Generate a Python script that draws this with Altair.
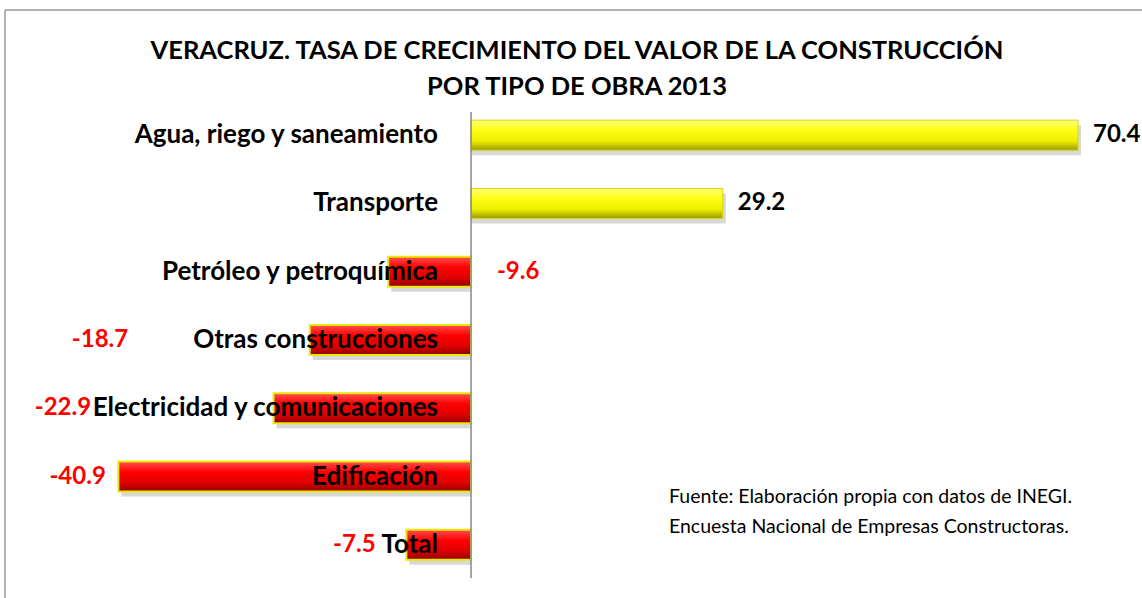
import altair as alt
import pandas as pd

categories = ["Agua, riego y saneamiento", "Transporte", "Petróleo y petroquímica",
              "Otras construcciones", "Electricidad y comunicaciones", "Edificación", "Total"]
values = [70.4, 29.2, -9.6, -18.7, -22.9, -40.9, -7.5]
# where Excel left each value label (left edge, in the same units as the values)
label_anchor = [70.4, 29.2, 3.0, -46.3, -50.6, -48.9, -16.0]
title_lines = ["VERACRUZ. TASA DE CRECIMIENTO DEL VALOR DE LA CONSTRUCCIÓN",
               "POR TIPO DE OBRA 2013"]
source_lines = ["Fuente: Elaboración propia con datos de INEGI.",
                "Encuesta Nacional de Empresas Constructoras."]

df = pd.DataFrame({"cat": categories, "val": values, "lab": label_anchor,
                   "txt": [f"{v:.1f}" for v in values]})

FONT = "Lato"
xs = alt.Scale(domain=[-54.63, 77.82], nice=False, zero=False)
ys = alt.Scale(domain=categories, paddingInner=0, paddingOuter=0)
X = lambda f: alt.X(f, type="quantitative", scale=xs, axis=None)
Y = alt.Y("cat:N", scale=ys, axis=None, sort=categories)

base = alt.Chart(df)

yellow_grad = alt.Gradient(gradient="linear", x1=0, y1=0, x2=0, y2=1, stops=[
    alt.GradientStop(color="#ffff80", offset=0),
    alt.GradientStop(color="#ffff1a", offset=0.3),
    alt.GradientStop(color="#eeee00", offset=0.7),
    alt.GradientStop(color="#9a9a00", offset=1)])
red_grad = alt.Gradient(gradient="linear", x1=0, y1=0, x2=0, y2=1, stops=[
    alt.GradientStop(color="#ff5050", offset=0),
    alt.GradientStop(color="#ff0000", offset=0.35),
    alt.GradientStop(color="#e00000", offset=0.7),
    alt.GradientStop(color="#900000", offset=1)])

shadow = base.mark_bar(size=30, color="#b8b8b8", opacity=0.55, xOffset=3, yOffset=5).encode(
    x=X("val"), x2=alt.X2(datum=0), y=Y)
pos = base.transform_filter("datum.val > 0").mark_bar(
    size=30, color=yellow_grad, stroke="#d8d800", strokeWidth=1).encode(
    x=X("val"), x2=alt.X2(datum=0), y=Y)
neg = base.transform_filter("datum.val < 0").mark_bar(
    size=30, color=red_grad, stroke="#e8e800", strokeWidth=2).encode(
    x=X("val"), x2=alt.X2(datum=0), y=Y)

zero = alt.Chart(pd.DataFrame({"z": [0]})).mark_rule(color="#888888", strokeWidth=1.5).encode(
    x=alt.X("z:Q", scale=xs, axis=None), y=alt.value(11), y2=alt.value(477))

cat_text = base.mark_text(align="right", baseline="middle", dx=-33, font=FONT,
                          fontWeight="bold", fontSize=26, color="black").encode(
    x=alt.X(datum=0, scale=xs, axis=None), y=Y, text="cat:N")

pos_lab = base.transform_filter("datum.val > 0").mark_text(
    align="left", baseline="middle", dx=15, font=FONT, fontWeight="bold",
    fontSize=24, color="black").encode(x=X("lab"), y=Y, text="txt:N")
neg_lab = base.transform_filter("datum.val < 0").mark_text(
    align="left", baseline="middle", font=FONT, fontWeight="bold",
    fontSize=24, color="#ff0000").encode(x=X("lab"), y=Y, text="txt:N")

one = pd.DataFrame({"k": [0]})
def line_text(txt, x, y, size, weight, align):
    return alt.Chart(one).mark_text(align=align, baseline="middle", font=FONT,
                                    fontWeight=weight, fontSize=size, color="black",
                                    text=txt).encode(x=alt.value(x), y=alt.value(y))

title1 = line_text(title_lines[0], 577, -50, 25.5, "bold", "center")
title2 = line_text(title_lines[1], 577, -14, 25.5, "bold", "center")
src1 = line_text(source_lines[0], 669, 396, 19.5, "normal", "left")
src2 = line_text(source_lines[1], 669, 426, 19.5, "normal", "left")

frame = alt.Chart(one).mark_rule(color="#999999", strokeWidth=1.5)
frame_top = frame.encode(x=alt.value(5), x2=alt.value(1142), y=alt.value(-91))
frame_left = frame.encode(x=alt.value(5), y=alt.value(-91), y2=alt.value(497))

chart = alt.layer(frame_top, frame_left, shadow, pos, neg, zero, cat_text, pos_lab, neg_lab,
                  title1, title2, src1, src2).properties(
    width=1142, height=478,
    autosize=alt.AutoSizeParams(type="none"),
    padding={"left": 0, "top": 101, "right": 0, "bottom": 19},
).configure(background="white").configure_view(stroke="transparent", strokeWidth=0)

chart.save("out.html", embed_options={"renderer": "svg", "actions": False})
